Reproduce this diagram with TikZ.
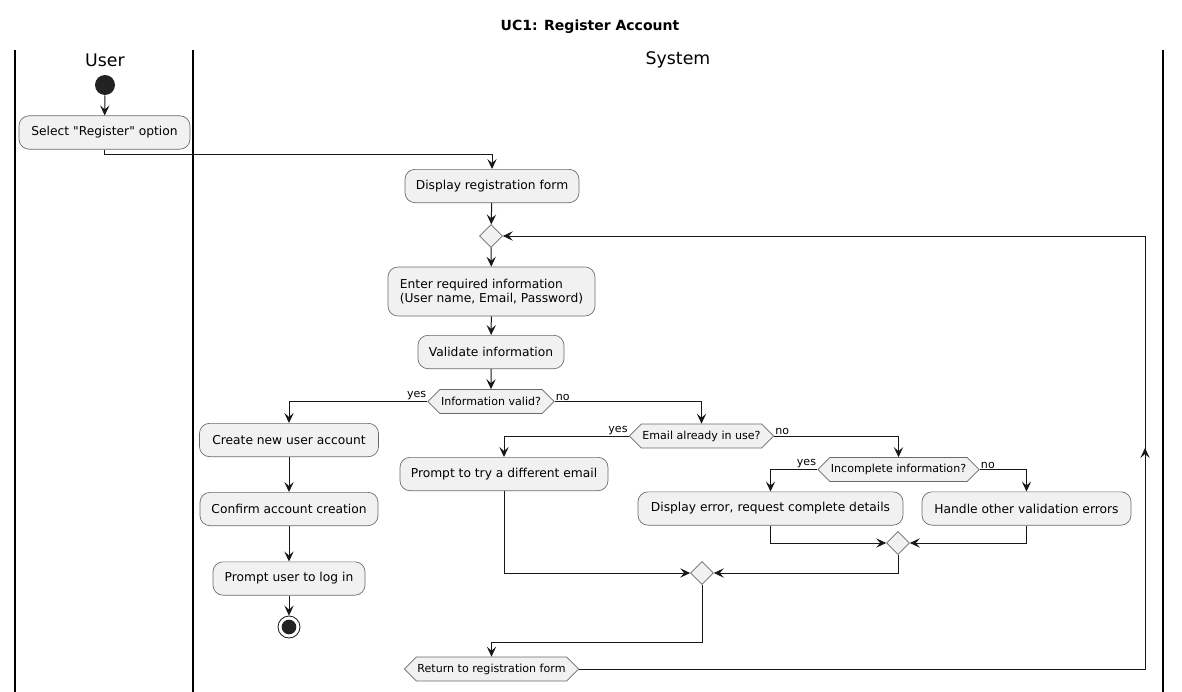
\documentclass[tikz,border=0pt]{standalone}
\usepackage{fontspec}
\setmainfont{DejaVu Sans}[Ligatures=TeXOff]
\usetikzlibrary{shapes.geometric,shapes.symbols,arrows.meta}
\definecolor{boxfill}{HTML}{F1F1F1}
\definecolor{edgec}{HTML}{181818}
\definecolor{dotc}{HTML}{222222}
\definecolor{borderc}{HTML}{6A6A6A}
\begin{document}
\begin{tikzpicture}[x=0.75pt,y=-0.75pt,
  act/.style={draw=borderc, line width=0.5pt, fill=boxfill, rounded corners=7.5pt,
    minimum height=25pt, inner xsep=2pt, inner ysep=2pt, font=\fontsize{9.2}{10.5}\selectfont},
  dec/.style={signal, signal to=east and west, signal pointer angle=90, draw=borderc,
    fill=boxfill, line width=0.5pt, minimum height=18pt, inner xsep=0.8pt, inner ysep=1pt,
    font=\fontsize{8.3}{9.5}\selectfont},
  merge/.style={diamond, draw=borderc, fill=boxfill, line width=0.5pt, minimum size=17.25pt, inner sep=0pt},
  flow/.style={draw=edgec, line width=0.75pt, -{Stealth[length=7.5pt,width=7pt,inset=3pt]}},
  lbl/.style={font=\fontsize{8.3}{9.5}\selectfont, inner sep=0.8pt},
  lane/.style={draw=black, line width=1.5pt},
  head/.style={font=\fontsize{13}{15}\selectfont},
]
\useasboundingbox (0,0) rectangle (1182,692);

% title and lanes
\node[font=\bfseries\fontsize{10.5}{12}\selectfont] (title) at (590,27) {UC1: Register Account};
\coordinate (l1t) at (15,50);  \coordinate (l1b) at (15,692);
\coordinate (l2t) at (193,50); \coordinate (l2b) at (193,692);
\coordinate (l3t) at (1163,50);\coordinate (l3b) at (1163,692);
\draw[lane] (l1t) -- (l1b);
\draw[lane] (l2t) -- (l2b);
\draw[lane] (l3t) -- (l3b);
\node[head] (huser) at (105,60) {User};
\node[head] (hsys) at (678,60) {System};

% nodes
\node[circle, fill=dotc, minimum size=15pt, inner sep=0pt] (start) at (105,85) {};
\node[act, minimum width=128.25pt] (sel) at (104.5,132.5) {Select "Register" option};
\node[act, minimum width=130.5pt] (disp) at (492,186) {Display registration form};
\node[merge] (m1) at (491,236) {};
\node[act, minimum width=155.25pt, minimum height=36.75pt, align=left] (enter) at (491.5,291.5)
  {Enter required information\\(User name, Email, Password)};
\node[act, minimum width=109.5pt] (valid) at (491,352) {Validate information};
\node[dec] (iv) at (491,401.5) {Information valid?};
\node[act, minimum width=134.25pt] (create) at (289,440) {Create new user account};
\node[act, minimum width=133.5pt] (confirm) at (289,509) {Confirm account creation};
\node[act, minimum width=114pt] (prompt) at (289,578.5) {Prompt user to log in};
\node[circle, draw=edgec, line width=0.6pt, fill=white, minimum size=16.5pt, inner sep=0pt] (endo) at (289,627) {};
\node[circle, fill=dotc, minimum size=11pt, inner sep=0pt] (endi) at (endo) {};
\node[dec] (email) at (701.5,436) {Email already in use?};
\node[act, minimum width=156pt] (tryemail) at (504,474) {Prompt to try a different email};
\node[dec] (incompl) at (898.5,469.5) {Incomplete information?};
\node[act, minimum width=198.75pt] (disperr) at (770.5,508.5) {Display error, request complete details};
\node[act, minimum width=156.75pt] (handle) at (1026.5,508.5) {Handle other validation errors};
\node[merge] (m2) at (898,543) {};
\node[merge] (m3) at (702,573) {};
\node[dec] (ret) at (491.5,669) {Return to registration form};

% helper coordinates
\coordinate (selturn) at (104.5,154.5);
\coordinate (jdrop) at (702,642);
\coordinate (lr) at (1145,669);
\coordinate (lt) at (1145,236);
\coordinate (lmid) at (1145,448);

% connectors
\draw[flow] (start) -- (sel);
\draw[flow] (sel.south) -- (selturn) -| (disp.north);
\draw[flow] (disp) -- (m1);
\draw[flow] (m1) -- (enter);
\draw[flow] (enter) -- (valid);
\draw[flow] (valid) -- (iv);
\draw[flow] (iv.west) -| (create.north);
\draw[flow] (iv.east) -| (email.north);
\draw[flow] (create) -- (confirm);
\draw[flow] (confirm) -- (prompt);
\draw[flow] (prompt) -- (endo);
\draw[flow] (email.west) -| (tryemail.north);
\draw[flow] (email.east) -| (incompl.north);
\draw[flow] (incompl.west) -| (disperr.north);
\draw[flow] (incompl.east) -| (handle.north);
\draw[flow] (disperr.south) |- (m2.west);
\draw[flow] (handle.south) |- (m2.east);
\draw[flow] (tryemail.south) |- (m3.west);
\draw[flow] (m2.south) |- (m3.east);
\draw[flow] (m3.south) -- (jdrop) -| (ret.north);
\draw[flow] (ret.east) -- (lr) -- (lt) -- (m1.east);
\draw[flow] (lr) -- (lmid);

% labels
\node[lbl, anchor=south east] (ivy) at (iv.west) {yes};
\node[lbl, anchor=south west] (ivn) at (iv.east) {no};
\node[lbl, anchor=south east] (emy) at (email.west) {yes};
\node[lbl, anchor=south west] (emn) at (email.east) {no};
\node[lbl, anchor=south east] (icy) at (incompl.west) {yes};
\node[lbl, anchor=south west] (icn) at (incompl.east) {no};
\end{tikzpicture}
\end{document}
